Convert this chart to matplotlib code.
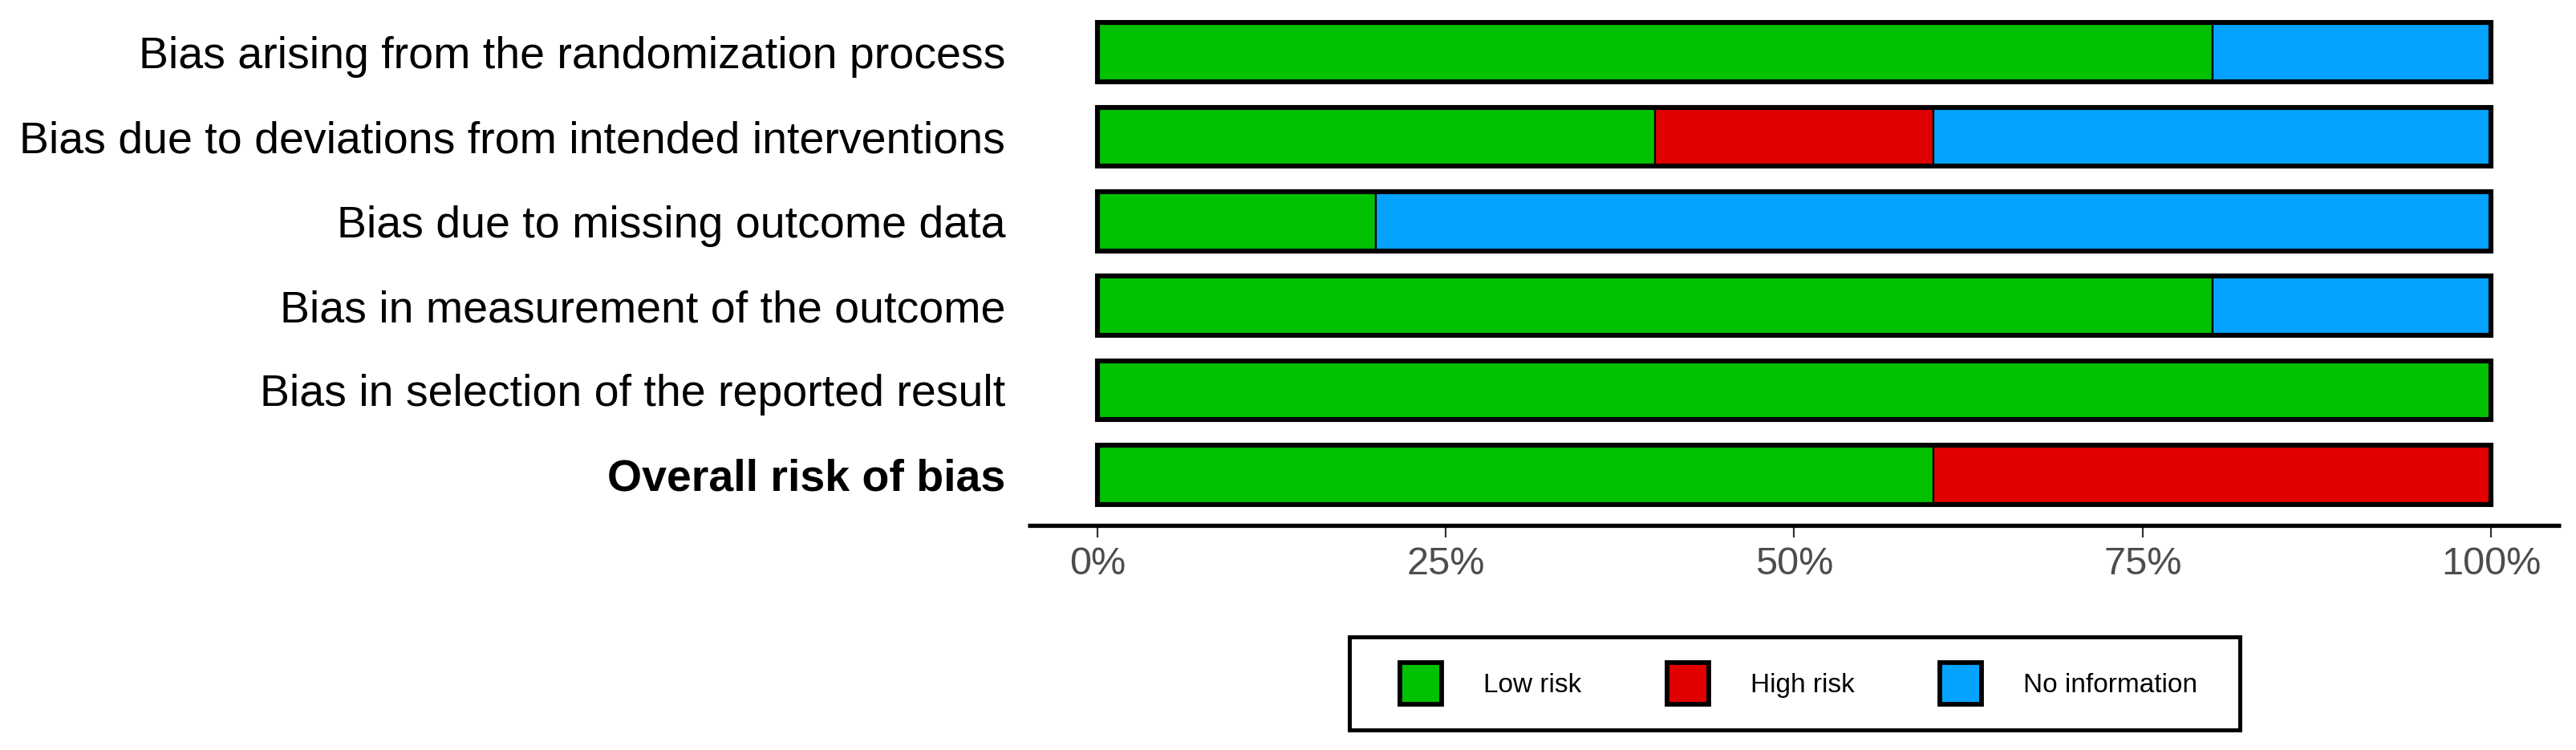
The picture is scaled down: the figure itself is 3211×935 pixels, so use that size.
"""Risk of bias summary plot (ROB2 style, weighted bar chart)"""
import matplotlib
matplotlib.use('Agg')
import matplotlib.pyplot as plt
from matplotlib.patches import Patch, Rectangle
from matplotlib.ticker import FuncFormatter

plt.rcParams['font.family'] = ['Liberation Sans', 'DejaVu Sans']

domains = [
    'Bias arising from the randomization process',
    'Bias due to deviations from intended interventions',
    'Bias due to missing outcome data',
    'Bias in measurement of the outcome',
    'Bias in selection of the reported result',
    'Overall risk of bias',
]
# percentage of studies per judgement
low_risk = [80, 40, 20, 80, 100, 60]
high_risk = [0, 20, 0, 0, 0, 40]
no_info = [20, 40, 80, 20, 0, 0]

judgements = ['Low risk', 'High risk', 'No information']
colours = ['#02C100', '#E10000', '#04A3FF']
x_ticks = [0, 25, 50, 75, 100]

W, H, DPI = 3212, 935, 200
fig = plt.figure(figsize=(W / DPI, H / DPI), dpi=DPI)
ax = fig.add_axes([1281 / W, 1 - 655 / H, (3192 - 1281) / W, (655 - 2) / H])

ypos = list(range(len(domains)))
left = [0] * len(domains)
for vals, col in zip([low_risk, high_risk, no_info], colours):
    ax.barh(ypos, vals, left=left, height=0.7, color=col,
            edgecolor='black', linewidth=0.8)
    left = [a + b for a, b in zip(left, vals)]
# thick outline round each bar
ax.barh(ypos, left, height=0.7, fill=False, edgecolor='black', linewidth=2.2)

ax.set_ylim(len(domains) - 0.4, -0.6)
ax.set_xlim(-5, 105)
ax.set_yticks(ypos)
ax.set_yticklabels(domains, fontsize=20)
ax.get_yticklabels()[-1].set_fontweight('bold')
ax.tick_params(axis='y', length=0, pad=10)

ax.set_xticks(x_ticks)
ax.xaxis.set_major_formatter(FuncFormatter(lambda v, p: f'{v:.0f}%'))
ax.tick_params(axis='x', length=5.4, width=0.8, color='#333333',
               labelsize=17.5, labelcolor='#4D4D4D', pad=4)

for s in ['top', 'right', 'left']:
    ax.spines[s].set_visible(False)
ax.spines['bottom'].set_linewidth(1.9)
ax.spines['bottom'].set_capstyle('butt')

handles = [Patch(facecolor=c, edgecolor='black', linewidth=2.1, label=l)
           for c, l in zip(colours, judgements)]
leg = fig.legend(handles=handles, ncol=3, loc='center',
                 bbox_to_anchor=(2242 / W, 1 - 852 / H), fontsize=12,
                 frameon=False, handlelength=1.56, handleheight=2.02,
                 handletextpad=1.55, columnspacing=3.2, borderpad=0.95,
                 borderaxespad=0)

# legend frame: wider side padding than matplotlib's uniform borderpad
fig.canvas.draw()
bb = leg.get_window_extent(fig.canvas.get_renderer())
pad_l, pad_r = 32, 22
fig.patches.append(Rectangle((bb.x0 - pad_l, bb.y0), bb.width + pad_l + pad_r,
                             bb.height, transform=None, fill=False,
                             edgecolor='black', linewidth=1.8, zorder=5))

fig.savefig('out.png', dpi=DPI)
